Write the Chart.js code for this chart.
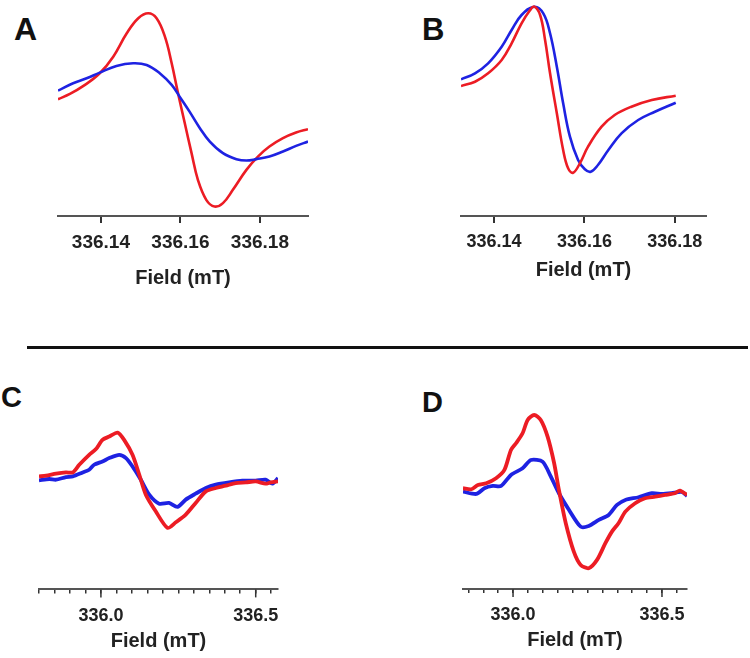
<!DOCTYPE html>
<html><head><meta charset="utf-8">
<script src="https://cdn.jsdelivr.net/npm/chart.js@4.4.1/dist/chart.umd.min.js"></script>
<style>
body{margin:0;background:#fff;width:750px;height:658px;position:relative;overflow:hidden;font-family:"Liberation Sans",Arial,sans-serif;}
canvas{position:absolute;}
.lab{position:absolute;font-weight:bold;line-height:1;color:#111;font-family:"Liberation Sans",Arial,sans-serif;}
#sep{position:absolute;left:27px;top:346px;width:721px;height:3px;background:#111;}
</style></head><body>
<div class="lab" style="left:14px;top:13px;font-size:32px">A</div>
<div class="lab" style="left:422px;top:14px;font-size:31px">B</div>
<div class="lab" style="left:1px;top:383px;font-size:29px">C</div>
<div class="lab" style="left:422px;top:388px;font-size:29px">D</div>
<div id="sep"></div>
<canvas id="cA" width="330" height="290" style="left:0px;top:0px;width:330px;height:290px"></canvas>
<canvas id="cB" width="375" height="282" style="left:375px;top:0px;width:375px;height:282px"></canvas>
<canvas id="cC" width="375" height="293" style="left:0px;top:360px;width:375px;height:293px"></canvas>
<canvas id="cD" width="375" height="292" style="left:375px;top:360px;width:375px;height:292px"></canvas>
<script>
// ---- Panel A (field in mT, signal in arbitrary units) ----
const ticksA = [336.14, 336.16, 336.18];
const aRedX = [336.1292, 336.1322, 336.1356, 336.1397, 336.1431, 336.1465, 336.1494, 336.1519, 336.1540, 336.1561, 336.1578, 336.1594, 336.1611, 336.1628, 336.1644, 336.1665, 336.1686, 336.1707, 336.1732, 336.1766, 336.1795, 336.1824, 336.1858, 336.1891, 336.1921];
const aRedY = [0.7, 6, 14, 26.7, 43.3, 66.7, 81.7, 86.7, 81.7, 63.3, 36.7, 6.7, -23.3, -53.3, -80, -100, -106.7, -103.3, -90, -70, -56.7, -46.7, -38.3, -32.7, -29.3];
const aBlueX = [336.1292, 336.1330, 336.1364, 336.1397, 336.1439, 336.1481, 336.1515, 336.1548, 336.1578, 336.1598, 336.1623, 336.1649, 336.1674, 336.1707, 336.1741, 336.1766, 336.1791, 336.1824, 336.1858, 336.1891, 336.1921];
const aBlueY = [9.3, 16.7, 21.7, 27.3, 34, 36.7, 35, 26.7, 15, 3.3, -11.7, -28.3, -41.7, -53.3, -59.3, -60.7, -59.3, -56.7, -51.7, -46, -41.7];

// ---- Panel B ----
const ticksB = [336.14, 336.16, 336.18];
const bRedX = [336.1327, 336.1358, 336.1387, 336.1417, 336.1439, 336.1461, 336.1480, 336.1489, 336.1502, 336.1513, 336.1524, 336.1539, 336.1553, 336.1564, 336.1575, 336.1590, 336.1608, 336.1638, 336.1667, 336.1704, 336.1749, 336.1802];
const bRedY = [4, 8.3, 16.7, 30, 46.7, 66.7, 80, 83.3, 75, 50, 16.7, -23.3, -60, -78.3, -82.7, -73.3, -56.7, -36.7, -25, -16.7, -10, -5.7];
const bBlueX = [336.1327, 336.1358, 336.1387, 336.1417, 336.1439, 336.1461, 336.1489, 336.1509, 336.1524, 336.1539, 336.1553, 336.1568, 336.1586, 336.1601, 336.1614, 336.1630, 336.1653, 336.1682, 336.1719, 336.1756, 336.1802];
const bBlueY = [10.7, 16.7, 26.7, 43.3, 60, 75, 83.3, 76.7, 56.7, 23.3, -13.3, -46.7, -70, -79.3, -81.7, -75, -60, -43.3, -30, -21.7, -12.7];

// ---- Panel C ----
const ticksC = [335.80, 335.85, 335.90, 335.95, 336.00, 336.05, 336.10, 336.15, 336.20, 336.25, 336.30, 336.35, 336.40, 336.45, 336.50, 336.55];
const majorC = [336.0, 336.5];
const cRedX = [335.800, 335.823, 335.855, 335.887, 335.909, 335.930, 335.962, 335.984, 336.005, 336.027, 336.054, 336.075, 336.102, 336.124, 336.145, 336.177, 336.215, 336.242, 336.274, 336.306, 336.339, 336.371, 336.403, 336.435, 336.468, 336.500, 336.532, 336.548, 336.572];
const cRedY = [3.3, 4, 6, 7.3, 7.3, 15, 25, 30.7, 40, 43.3, 47.3, 40, 25, 5, -15, -31.7, -48.3, -42.7, -35, -23.3, -11.7, -8.3, -6, -3.3, -2.7, -1.7, -4, -2.7, -1.7];
const cBlueX = [335.800, 335.833, 335.855, 335.887, 335.909, 335.941, 335.962, 335.978, 336.005, 336.027, 336.059, 336.081, 336.102, 336.129, 336.156, 336.188, 336.220, 336.247, 336.274, 336.306, 336.339, 336.371, 336.414, 336.457, 336.500, 336.532, 336.554, 336.572];
const cBlueY = [-0.7, 0.7, 0, 2.7, 3.3, 7.3, 10, 15, 18.3, 21.7, 25, 21.7, 13.3, 0, -15, -24, -23.3, -27.3, -20, -14, -8.3, -5, -2.7, -1, -1, 0, -4, 1.7];

// ---- Panel D ----
const ticksD = [335.85, 335.90, 335.95, 336.00, 336.05, 336.10, 336.15, 336.20, 336.25, 336.30, 336.35, 336.40, 336.45, 336.50, 336.55];
const majorD = [336.0, 336.5];
const dRedX = [335.832, 335.860, 335.882, 335.910, 335.943, 335.971, 335.993, 336.010, 336.032, 336.049, 336.071, 336.093, 336.116, 336.138, 336.154, 336.177, 336.204, 336.227, 336.254, 336.282, 336.310, 336.332, 336.354, 336.377, 336.410, 336.443, 336.477, 336.510, 336.543, 336.560, 336.584];
const dRedY = [3.7, 2.7, 7, 8.7, 13.7, 22, 42, 48.7, 58.7, 72, 77, 72, 55.3, 28.7, 2, -31.3, -59.7, -73, -76.3, -68, -51.3, -39.7, -31.3, -19.7, -11.3, -6.3, -4.7, -3, -1.3, 1.3, -3];
const dBlueX = [335.832, 335.877, 335.904, 335.932, 335.960, 335.993, 336.032, 336.060, 336.099, 336.127, 336.154, 336.188, 336.227, 336.254, 336.288, 336.321, 336.349, 336.377, 336.421, 336.466, 336.499, 336.532, 336.566, 336.584];
const dBlueY = [0.3, -2, 3.7, 6, 6, 17, 23.7, 32, 30.3, 15.3, -1.3, -18, -34.7, -34, -28, -23, -13, -8, -5.3, -1.3, -2, -1.3, 0, -4];

const RED = '#ec1c24', BLUE = '#1e22e2';
const FONT = "'Liberation Sans', Arial, sans-serif";

function pts(xs, ys) { return xs.map((x, i) => ({ x: x, y: ys[i] })); }

const majorTickPlugin = {
  id: 'majorTicks',
  afterDraw(chart, args, opts) {
    if (!opts || !opts.values || !opts.len) return;
    const sx = chart.scales.x, ctx = chart.ctx, y0 = chart.chartArea.bottom;
    ctx.save();
    ctx.strokeStyle = '#333'; ctx.lineWidth = 1.5;
    opts.values.forEach(v => {
      const px = sx.getPixelForValue(v);
      ctx.beginPath(); ctx.moveTo(px, y0); ctx.lineTo(px, y0 + opts.len); ctx.stroke();
    });
    ctx.restore();
  }
};

function panel(id, p) {
  const red = { data: pts(p.redX, p.redY), borderColor: RED, borderWidth: p.lw, pointRadius: 0, fill: false, tension: p.tension };
  const blue = { data: pts(p.blueX, p.blueY), borderColor: BLUE, borderWidth: p.lw, pointRadius: 0, fill: false, tension: p.tension };
  const datasets = p.redOnTop ? [red, blue] : [blue, red];
  new Chart(document.getElementById(id), {
    type: 'line',
    data: { datasets: datasets },
    options: {
      responsive: false, animation: false, events: [],
      layout: { padding: p.pad },
      plugins: { legend: { display: false }, tooltip: { enabled: false }, majorTicks: { values: p.majorExt, len: p.majorLen } },
      scales: {
        x: {
          type: 'linear', min: p.xmin, max: p.xmax,
          afterBuildTicks: s => { s.ticks = p.ticks.map(v => ({ value: v })); },
          ticks: {
            autoSkip: false, maxRotation: 0, minRotation: 0, padding: p.tickPad, color: '#222',
            font: { family: FONT, size: p.tickSize, weight: 'bold' },
            callback: v => (p.major.indexOf(v) >= 0 ? v.toFixed(p.dec) : '')
          },
          grid: { drawOnChartArea: false, drawTicks: true, tickLength: p.tl, color: '#333', lineWidth: p.tickW },
          border: { display: true, color: '#555', width: 2 },
          title: { display: true, text: 'Field (mT)', color: '#222', font: { family: FONT, size: 20, weight: 'bold' }, padding: { top: p.tp, bottom: 0 } }
        },
        y: { display: false, min: p.ymin, max: p.ymax }
      }
    },
    plugins: [majorTickPlugin]
  });
}

panel('cA', { redX: aRedX, redY: aRedY, blueX: aBlueX, blueY: aBlueY, lw: 2.6, tension: 0.4, redOnTop: false,
  pad: { left: 58, right: 22, top: 5, bottom: 0 }, xmin: 336.1292, xmax: 336.1921, ticks: ticksA, major: ticksA, dec: 2,
  tickPad: 8.6, tickSize: 19, tl: 7, tickW: 2, tp: 3, ymin: -116.2, ymax: 95, majorExt: null, majorLen: 0 });

panel('cB', { redX: bRedX, redY: bRedY, blueX: bBlueX, blueY: bBlueY, lw: 2.6, tension: 0.4, redOnTop: true,
  pad: { left: 86, right: 44, top: 5, bottom: 0 }, xmin: 336.1327, xmax: 336.1869, ticks: ticksB, major: ticksB, dec: 2,
  tickPad: 8.2, tickSize: 18, tl: 7, tickW: 2, tp: -3, ymin: -126, ymax: 85, majorExt: null, majorLen: 0 });

panel('cC', { redX: cRedX, redY: cRedY, blueX: cBlueX, blueY: cBlueY, lw: 3.8, tension: 0.25, redOnTop: true,
  pad: { left: 39, right: 97, top: 20, bottom: 0 }, xmin: 335.80, xmax: 336.572, ticks: ticksC, major: majorC, dec: 1,
  tickPad: 11.5, tickSize: 18, tl: 4, tickW: 1.5, tp: -9, ymin: -110, ymax: 100, majorExt: majorC, majorLen: 8 });

panel('cD', { redX: dRedX, redY: dRedY, blueX: dBlueX, blueY: dBlueY, lw: 3.8, tension: 0.25, redOnTop: true,
  pad: { left: 88, right: 63, top: 20, bottom: 0 }, xmin: 335.832, xmax: 336.584, ticks: ticksD, major: majorD, dec: 1,
  tickPad: 11.5, tickSize: 18, tl: 4, tickW: 1.5, tp: -9.5, ymin: -97, ymax: 112, majorExt: majorD, majorLen: 8 });
</script>
</body></html>
